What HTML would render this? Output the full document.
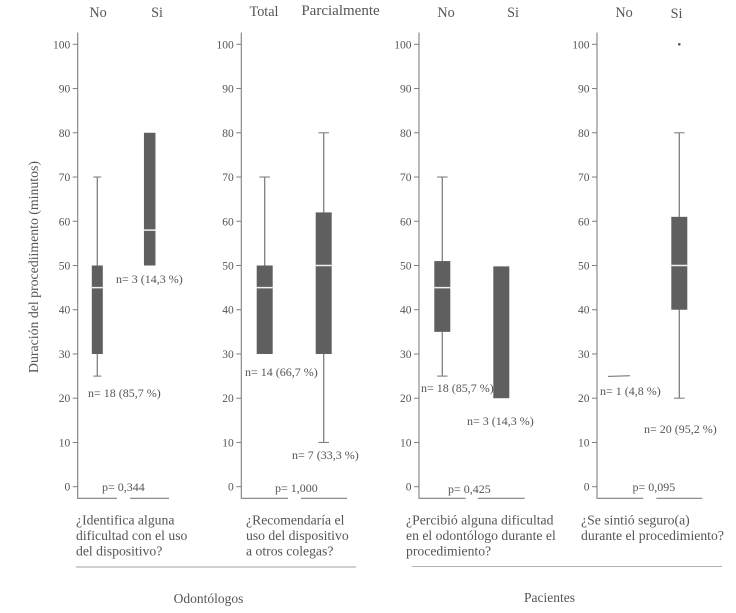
<!DOCTYPE html>
<html lang="es">
<head>
<meta charset="utf-8">
<title>Duración del procedimiento</title>
<style>
html,body{margin:0;padding:0;background:#fff;width:736px;height:613px;overflow:hidden}
svg{display:block;font-family:"Liberation Serif",serif;filter:blur(0.3px)}
text{fill:#555}
</style>
</head>
<body>
<svg id="chart" width="736" height="613" viewBox="0 0 736 613" xmlns="http://www.w3.org/2000/svg">
  <g font-size="14.200" text-anchor="middle">
    <text x="98" y="17">No</text>
    <text x="157" y="17">Si</text>
    <text x="264" y="16">Total</text>
    <text x="340.500" y="15" font-size="15">Parcialmente</text>
    <text x="446" y="17">No</text>
    <text x="513" y="17">Si</text>
    <text x="624" y="17">No</text>
    <text x="676.500" y="18">Si</text>
  </g>
  <text font-size="13.800" text-anchor="middle" transform="translate(38 267) rotate(-90)">Duración del procediimento (minutos)</text>
  <g font-size="12">
    <text x="116" y="283">n= 3 (14,3 %)</text>
    <text x="88" y="397">n= 18 (85,7 %)</text>
    <text x="245" y="376">n= 14 (66,7 %)</text>
    <text x="292" y="459">n= 7 (33,3 %)</text>
    <text x="421" y="392">n= 18 (85,7 %)</text>
    <text x="467" y="425">n= 3 (14,3 %)</text>
    <text x="600" y="395">n= 1 (4,8 %)</text>
    <text x="644" y="433">n= 20 (95,2 %)</text>
  </g>
  <g font-size="12">
    <text x="102" y="491">p= 0,344</text>
    <text x="275" y="492">p= 1,000</text>
    <text x="448" y="493">p= 0,425</text>
    <text x="632.500" y="491">p= 0,095</text>
  </g>
  <g font-size="13.700">
    <text>
      <tspan x="76" y="524.500">¿Identifica alguna</tspan>
      <tspan x="76" y="540">dificultad con el uso</tspan>
      <tspan x="76" y="555.500">del dispositivo?</tspan>
    </text>
    <text>
      <tspan x="246" y="524.500">¿Recomendaría el</tspan>
      <tspan x="246" y="540">uso del dispositivo</tspan>
      <tspan x="246" y="555.500">a otros colegas?</tspan>
    </text>
    <text>
      <tspan x="406" y="524.500">¿Percibió alguna dificultad</tspan>
      <tspan x="406" y="540">en el odontólogo durante el</tspan>
      <tspan x="406" y="555.500">procedimiento?</tspan>
    </text>
    <text>
      <tspan x="581" y="524.500">¿Se sintió seguro(a)</tspan>
      <tspan x="581" y="540">durante el procedimiento?</tspan>
    </text>
  </g>
  <line x1="76" x2="356" y1="567" y2="567" stroke="#b5b5b5" stroke-width="1.200"/>
  <line x1="412" x2="722" y1="566.500" y2="566.500" stroke="#999" stroke-width="0.800"/>
  <text x="208.500" y="603" font-size="13.500" text-anchor="middle">Odontólogos</text>
  <text x="549.500" y="602" font-size="13.500" text-anchor="middle">Pacientes</text>
  <g id="plots"></g>
</svg>
<script>
// Chart data: [lower whisker, Q1, median, Q3, upper whisker]
const yTicks = [0, 10, 20, 30, 40, 50, 60, 70, 80, 90, 100];
const panel1Box = [[25, 30, 45, 50, 70], [50, 50, 58, 80, 80]];
const panel2Box = [[30, 30, 45, 50, 70], [10, 30, 50, 62, 80]];
const panel3Box = [[25, 35, 45, 51, 70], [20, 20, 49.800, 49.800, 49.800]];
const panel4Box = [[25, 25, 25, 25, 25], [20, 40, 50, 61, 80]];
const panel4Outliers = [100];

const AX = { y0: 486.700, pxPerUnit: 4.424, top: 32.500, bottom: 498.300 };
function yScale(v) { return AX.y0 - v * AX.pxPerUnit; }

const SVGNS = 'http://www.w3.org/2000/svg';
const root = document.getElementById('plots');

function mk(tag, attrs, parent) {
  const el = document.createElementNS(SVGNS, tag);
  for (const k in attrs) el.setAttribute(k, attrs[k]);
  parent.appendChild(el);
  return el;
}

function drawAxis(g, ax, seg1End, seg2Start, seg2End) {
  const axis = mk('path', { d: 'M' + ax + ' ' + AX.top + 'V' + AX.bottom + 'H' + seg1End + 'M' + seg2Start + ' ' + AX.bottom + 'H' + seg2End, fill: 'none', stroke: '#808080', 'stroke-width': 1.100 }, g);
  
  
  yTicks.forEach(function (t) {
    const y = yScale(t);
    const tick = mk('line', { x1: ax - 5, x2: ax, y1: y, y2: y, stroke: '#808080', 'stroke-width': 1 }, g);
    
    
    const lab = mk('text', { x: ax - 7.500, y: y + 4, 'text-anchor': 'end', 'font-size': 11.500 }, g);
    
    
    lab.textContent = String(t);
  });
}

function drawBox(g, cx, w, capW, s) {
  const lo = s[0], q1 = s[1], med = s[2], q3 = s[3], hi = s[4];
  const whisker = mk('line', { x1: cx, x2: cx, y1: yScale(lo), y2: yScale(hi), stroke: '#808080', 'stroke-width': 1.300 }, g);
  
  
  if (hi > q3) {
    const capHi = mk('line', { x1: cx - capW / 2, x2: cx + capW / 2, y1: yScale(hi), y2: yScale(hi), stroke: '#808080', 'stroke-width': 1.100 }, g);
    
    
  }
  if (lo < q1) {
    const capLo = mk('line', { x1: cx - capW / 2, x2: cx + capW / 2, y1: yScale(lo), y2: yScale(lo), stroke: '#808080', 'stroke-width': 1.100 }, g);
    
    
  }
  const box = mk('rect', { x: cx - w / 2, y: yScale(q3), width: w, height: yScale(q1) - yScale(q3), fill: '#5f5f5f' }, g);
  
  
  if (med < q3) {
    const m = mk('line', { x1: cx - w / 2, x2: cx + w / 2, y1: yScale(med), y2: yScale(med), stroke: '#f0f0f0', 'stroke-width': 1.500 }, g);
    
    
  }
}

// Panel 1
const g1 = mk('g', {}, root);


drawAxis(g1, 77.700, 117, 130, 169);
drawBox(g1, 97.300, 11, 8, panel1Box[0]);
drawBox(g1, 149.700, 11.500, 8, panel1Box[1]);

// Panel 2
const g2 = mk('g', {}, root);


drawAxis(g2, 241.300, 288, 301, 347);
drawBox(g2, 264.700, 16, 10.500, panel2Box[0]);
drawBox(g2, 323.700, 16, 10.500, panel2Box[1]);

// Panel 3
const g3 = mk('g', {}, root);


drawAxis(g3, 419, 465.700, 478, 524.700);
drawBox(g3, 442.300, 16, 10.500, panel3Box[0]);
drawBox(g3, 501.300, 16, 10.500, panel3Box[1]);

// Panel 4
const g4 = mk('g', {}, root);


drawAxis(g4, 597, 643.300, 656.300, 702.300);
const single = mk('line', { x1: 608, x2: 630, y1: yScale(panel4Box[0][2]) + 0.300, y2: yScale(panel4Box[0][2]) - 0.300, stroke: '#6a6a6a', 'stroke-width': 1 }, g4);


drawBox(g4, 679.300, 16, 10.500, panel4Box[1]);
panel4Outliers.forEach(function (v) {
  const dot = mk('circle', { cx: 679.300, cy: yScale(v), r: 1.300, fill: '#555' }, g4);
  
  
});
</script>
</body>
</html>
